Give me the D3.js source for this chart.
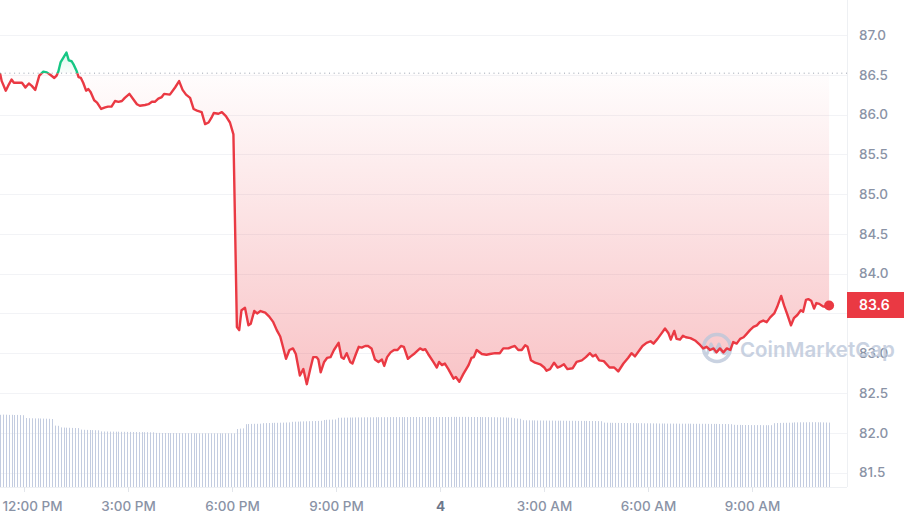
<!DOCTYPE html>
<html><head><meta charset="utf-8">
<script src="https://cdn.jsdelivr.net/npm/d3@7"></script>
<style>
html,body{margin:0;padding:0;background:#fff;}
svg{display:block;font-family:Inter,"Noto Sans",sans-serif;}
</style></head><body>
<svg id="chart" width="904" height="522"></svg>
<script>
// ---------------- DATA ----------------
const startTime = "2025-03-03T11:18:28Z";
const windowHours = 24;
const openPrice = 86.52;
const lastPrice = 83.6;

// minutes after startTime
const priceMinutes = [0,3,10,14,20,24,29,38,44,50,55,61,68,75,81,87,94,98,101,105,110,115,119,124,128,133,136,140,144,149,153,157,163,168,175,182,187,193,199,205,211,216,224,231,237,242,251,257,263,268,274,280,284,294,303,310,316,322,329,335,341,349,355,361,366,370,378,384,391,398,404,410,414,418,424,430,434,440,445,451,459,466,473,479,485,489,495,501,507,512,519,525,531,537,542,548,551,555,561,566,572,578,586,591,595,600,606,610,616,621,626,632,637,643,649,655,661,665,670,676,682,688,694,699,706,711,718,727,732,736,741,750,756,760,765,770,776,785,789,795,802,811,816,820,825,834,842,848,857,865,871,880,886,891,897,903,909,913,919,926,935,942,946,952,959,965,969,976,982,991,998,1007,1014,1021,1026,1031,1037,1045,1055,1063,1070,1079,1087,1093,1099,1106,1112,1119,1126,1131,1138,1144,1151,1157,1161,1167,1171,1177,1182,1187,1195,1203,1212,1217,1223,1229,1235,1240,1246,1252,1258,1264,1269,1275,1281,1287,1292,1298,1304,1310,1315,1321,1327,1333,1340,1345,1352,1357,1363,1369,1374,1380,1386,1390,1395,1399,1404,1409,1413,1418,1424,1431,1435];

const priceValues = [86.52,86.42,86.30,86.36,86.44,86.40,86.40,86.40,86.34,86.39,86.36,86.31,86.49,86.54,86.53,86.50,86.46,86.49,86.54,86.66,86.72,86.78,86.68,86.67,86.62,86.54,86.47,86.46,86.40,86.30,86.32,86.28,86.18,86.15,86.07,86.09,86.10,86.10,86.17,86.16,86.17,86.21,86.26,86.19,86.13,86.11,86.12,86.13,86.16,86.16,86.20,86.22,86.26,86.25,86.34,86.42,86.31,86.25,86.21,86.07,86.05,86.03,85.88,85.90,85.96,86.02,86.01,86.03,85.98,85.90,85.75,83.33,83.29,83.54,83.57,83.35,83.37,83.53,83.50,83.53,83.51,83.46,83.39,83.29,83.21,83.10,82.93,83.04,83.06,82.99,82.72,82.80,82.61,82.80,82.95,82.95,82.92,82.76,82.89,82.94,82.95,83.04,83.13,82.95,82.93,83.00,82.89,82.87,82.99,83.08,83.07,83.09,83.09,83.06,82.92,82.89,82.92,82.84,82.95,83.01,83.04,83.04,83.09,83.08,82.93,82.96,83.00,83.06,83.04,83.05,82.99,82.89,82.82,82.89,82.85,82.87,82.80,82.68,82.70,82.64,82.74,82.85,82.94,82.95,83.04,82.99,82.98,82.99,83.00,83.00,83.06,83.06,83.08,83.09,83.04,83.04,83.10,83.08,82.91,82.88,82.86,82.82,82.78,82.80,82.88,82.82,82.83,82.86,82.80,82.81,82.89,82.91,82.95,83.00,82.96,82.98,82.91,82.90,82.82,82.82,82.77,82.87,82.94,83.00,82.96,83.03,83.09,83.13,83.15,83.12,83.18,83.24,83.31,83.25,83.17,83.28,83.18,83.17,83.22,83.20,83.19,83.16,83.10,83.06,83.08,83.04,83.06,83.01,83.06,83.01,83.06,83.04,83.14,83.12,83.18,83.20,83.24,83.29,83.33,83.35,83.39,83.41,83.39,83.45,83.50,83.58,83.72,83.60,83.48,83.35,83.44,83.48,83.54,83.52,83.67,83.68,83.66,83.56,83.63,83.62,83.59,83.58,83.60];

// volume bars, one per 5 minutes (millions, relative)
const volumeStepMinutes = 5;
const volumeValues = [
722,724,723,721,722,720,721,719,718,
690,688,687,686,686,685,684,683,682,680,
614,612,
596,594,593,592,591,590,589,
574,572,571,570,569,568,567,
556,555,555,554,554,553,553,552,552,551,551,550,550,549,549,548,548,547,547,
541,541,540,540,540,539,539,539,539,538,538,538,538,538,537,537,537,537,537,537,537,537,537,537,537,537,537,537,
580,584,586,
628,630,631,632,632,633,
638,639,640,641,642,642,643,644,645,646,
652,653,654,655,656,657,658,659,660,661,662,
670,672,673,674,675,
692,693,694,694,695,695,696,696,696,697,
697,697,697,698,698,698,698,698,699,699,
699,699,699,699,699,700,700,700,700,700,
700,700,700,700,700,700,700,700,700,701,
701,701,701,701,701,701,700,700,700,700,
699,699,699,698,698,697,697,696,695,694,
693,
688,685,682,
668,667,667,666,666,665,665,665,664,664,664,663,663,663,663,662,662,662,662,661,661,661,661,660,660,660,659,658,
644,643,642,642,641,641,640,640,640,639,639,638,638,638,637,637,637,
636,636,635,635,635,634,634,634,634,633,633,633,633,633,632,632,632,632,632,631,631,631,631,630,630,630,629,628,
622,621,621,620,620,620,619,619,619,619,618,618,618,618,
638,640,641,642,642,643,643,
646,646,647,647,647,648,648,648,647,647,646,645,644
];

const yTickValues = [87.0,86.5,86.0,85.5,85.0,84.5,84.0,83.5,83.0,82.5,82.0,81.5];
const xTickTimes = ["2025-03-03T12:00:00Z","2025-03-03T15:00:00Z","2025-03-03T18:00:00Z","2025-03-03T21:00:00Z","2025-03-04T00:00:00Z","2025-03-04T03:00:00Z","2025-03-04T06:00:00Z","2025-03-04T09:00:00Z"];
const xTickLabels = ["12:00 PM","3:00 PM","6:00 PM","9:00 PM","4","3:00 AM","6:00 AM","9:00 AM"];
const watermarkText = "CoinMarketCap";

// ---------------- CHART ----------------
const RED = "#ea3943", GREEN = "#16c784";
const svg = d3.select("#chart");
const t0 = new Date(startTime);
const t1 = new Date(t0.getTime() + windowHours * 3600e3);
const plotRight = 847, plotBottom = 487;

const x = d3.scaleUtc().domain([t0, t1]).range([0, 832]);
const y = d3.scaleLinear().domain([81.5, 87]).range([472.5, 35]);
const yVol = d3.scaleLinear().domain([0, 750]).range([plotBottom, 412]);

const prices = priceMinutes.map((m, i) => ({ t: new Date(t0.getTime() + m * 60e3), p: priceValues[i] }));
const vols = volumeValues.map((v, i) => ({ t: new Date(t0.getTime() + i * volumeStepMinutes * 60e3), v }));
const yOpen = y(openPrice);

const defs = svg.append("defs");
const gRed = defs.append("linearGradient").attr("id", "gRed")
  .attr("gradientUnits", "userSpaceOnUse").attr("x1", 0).attr("x2", 0)
  .attr("y1", yOpen).attr("y2", y(d3.min(priceValues)));
gRed.append("stop").attr("offset", "0%").attr("stop-color", RED).attr("stop-opacity", 0.01);
gRed.append("stop").attr("offset", "100%").attr("stop-color", RED).attr("stop-opacity", 0.3);
const gGreen = defs.append("linearGradient").attr("id", "gGreen")
  .attr("gradientUnits", "userSpaceOnUse").attr("x1", 0).attr("x2", 0)
  .attr("y1", yOpen).attr("y2", y(d3.max(priceValues)));
gGreen.append("stop").attr("offset", "0%").attr("stop-color", GREEN).attr("stop-opacity", 0.02);
gGreen.append("stop").attr("offset", "100%").attr("stop-color", GREEN).attr("stop-opacity", 0.14);
defs.append("clipPath").attr("id", "below").append("rect")
  .attr("x", 0).attr("y", yOpen).attr("width", 904).attr("height", 522);
defs.append("clipPath").attr("id", "above").append("rect")
  .attr("x", 0).attr("y", 0).attr("width", 904).attr("height", yOpen);

// horizontal gridlines
svg.append("g").selectAll("line").data(yTickValues).join("line")
  .attr("x1", 0).attr("x2", plotRight)
  .attr("y1", d => Math.round(y(d)) + 0.5).attr("y2", d => Math.round(y(d)) + 0.5)
  .attr("stroke", "#f2f3f6").attr("stroke-width", 1);

// volume bars
svg.append("g").selectAll("line").data(vols).join("line")
  .attr("x1", d => Math.round(x(d.t)) + 0.5).attr("x2", d => Math.round(x(d.t)) + 0.5)
  .attr("y1", yVol(0)).attr("y2", d => yVol(d.v))
  .attr("stroke", "#c3cce0").attr("stroke-width", 1);

// frame
svg.append("line").attr("x1", plotRight + 0.5).attr("x2", plotRight + 0.5).attr("y1", 0).attr("y2", plotBottom)
  .attr("stroke", "#eef0f3");
svg.append("line").attr("x1", 0).attr("x2", plotRight).attr("y1", plotBottom + 0.5).attr("y2", plotBottom + 0.5)
  .attr("stroke", "#eef0f3");

// area fills
const area = d3.area().x(d => x(d.t)).y0(yOpen).y1(d => y(d.p));
svg.append("path").datum(prices).attr("d", area).attr("fill", "url(#gRed)").attr("clip-path", "url(#below)");
svg.append("path").datum(prices).attr("d", area).attr("fill", "url(#gGreen)").attr("clip-path", "url(#above)");

// dotted open-price line
svg.append("line").attr("x1", 0).attr("x2", plotRight).attr("y1", yOpen).attr("y2", yOpen)
  .attr("stroke", "#9aa1ae").attr("stroke-width", 1).attr("stroke-dasharray", "1,3.7");

// y axis (the label hidden behind the current-price badge is skipped, as in the original)
const yAxis = d3.axisRight(y).tickValues(yTickValues).tickSize(0).tickPadding(12)
  .tickFormat(d => Math.abs(y(d) - y(lastPrice)) < 16 ? "" : d3.format(".1f")(d));
const gy = svg.append("g").attr("transform", `translate(${plotRight},0)`).call(yAxis);
gy.select(".domain").remove();
gy.selectAll("text").attr("fill", "#8a93a6").attr("font-size", 13.5).attr("font-weight", 500)
  .attr("font-family", "Inter,'Noto Sans',sans-serif");

// x axis
const xAxis = d3.axisBottom(x).tickValues(xTickTimes.map(s => new Date(s)))
  .tickFormat((d, i) => xTickLabels[i]).tickSize(5).tickPadding(9);
const gx = svg.append("g").attr("transform", `translate(0,${plotBottom})`).call(xAxis);
gx.select(".domain").remove();
gx.selectAll(".tick line").attr("stroke", "#e3e6eb");
gx.selectAll("text").attr("fill", "#8a93a6").attr("font-size", 13.5).attr("font-weight", 500)
  .attr("font-family", "Inter,'Noto Sans',sans-serif");
gx.selectAll(".tick").filter((d, i) => xTickLabels[i] === "4").select("text")
  .attr("font-weight", 700).attr("fill", "#6c778b");
gx.selectAll(".tick").each(function (d) {
  const t = d3.select(this).select("text");
  const bb = t.node().getBBox();
  const left = x(d) + bb.x;
  if (left < 2) t.attr("dx", 2 - left);
});

// watermark
const wm = svg.append("g").attr("opacity", 0.8);
wm.append("circle").attr("cx", 717).attr("cy", 348).attr("r", 13.5)
  .attr("fill", "none").attr("stroke", "#bcc7da").attr("stroke-width", 3.5);
wm.append("path").attr("d", "M707,354 L711,344 L715,352 L719,344 L722,352 Q725,356 728,351")
  .attr("fill", "none").attr("stroke", "#bcc7da").attr("stroke-width", 3).attr("stroke-linejoin", "round").attr("stroke-linecap", "round");
wm.append("text").attr("x", 740).attr("y", 357).text(watermarkText)
  .attr("fill", "#bcc7da").attr("font-size", 20.5).attr("font-weight", 600)
  .attr("font-family", "Inter,'Noto Sans',sans-serif");

// price line
const line = d3.line().x(d => x(d.t)).y(d => y(d.p));
svg.append("path").datum(prices).attr("d", line).attr("fill", "none").attr("stroke", RED)
  .attr("stroke-width", 2.4).attr("stroke-linejoin", "round").attr("clip-path", "url(#below)");
svg.append("path").datum(prices).attr("d", line).attr("fill", "none").attr("stroke", GREEN)
  .attr("stroke-width", 2.4).attr("stroke-linejoin", "round").attr("clip-path", "url(#above)");

// end marker
const last = prices[prices.length - 1];
svg.append("circle").attr("cx", x(last.t)).attr("cy", y(last.p)).attr("r", 5).attr("fill", RED);

// price badge
svg.append("rect").attr("x", plotRight).attr("y", Math.round(y(lastPrice)) - 13).attr("width", 904 - plotRight).attr("height", 26)
  .attr("fill", RED);
svg.append("text").attr("x", 859).attr("y", y(lastPrice)).attr("dy", "0.35em").text(d3.format(".1f")(lastPrice))
  .attr("fill", "#fff").attr("font-size", 14).attr("font-weight", 600)
  .attr("font-family", "Inter,'Noto Sans',sans-serif");
</script>
</body></html>
